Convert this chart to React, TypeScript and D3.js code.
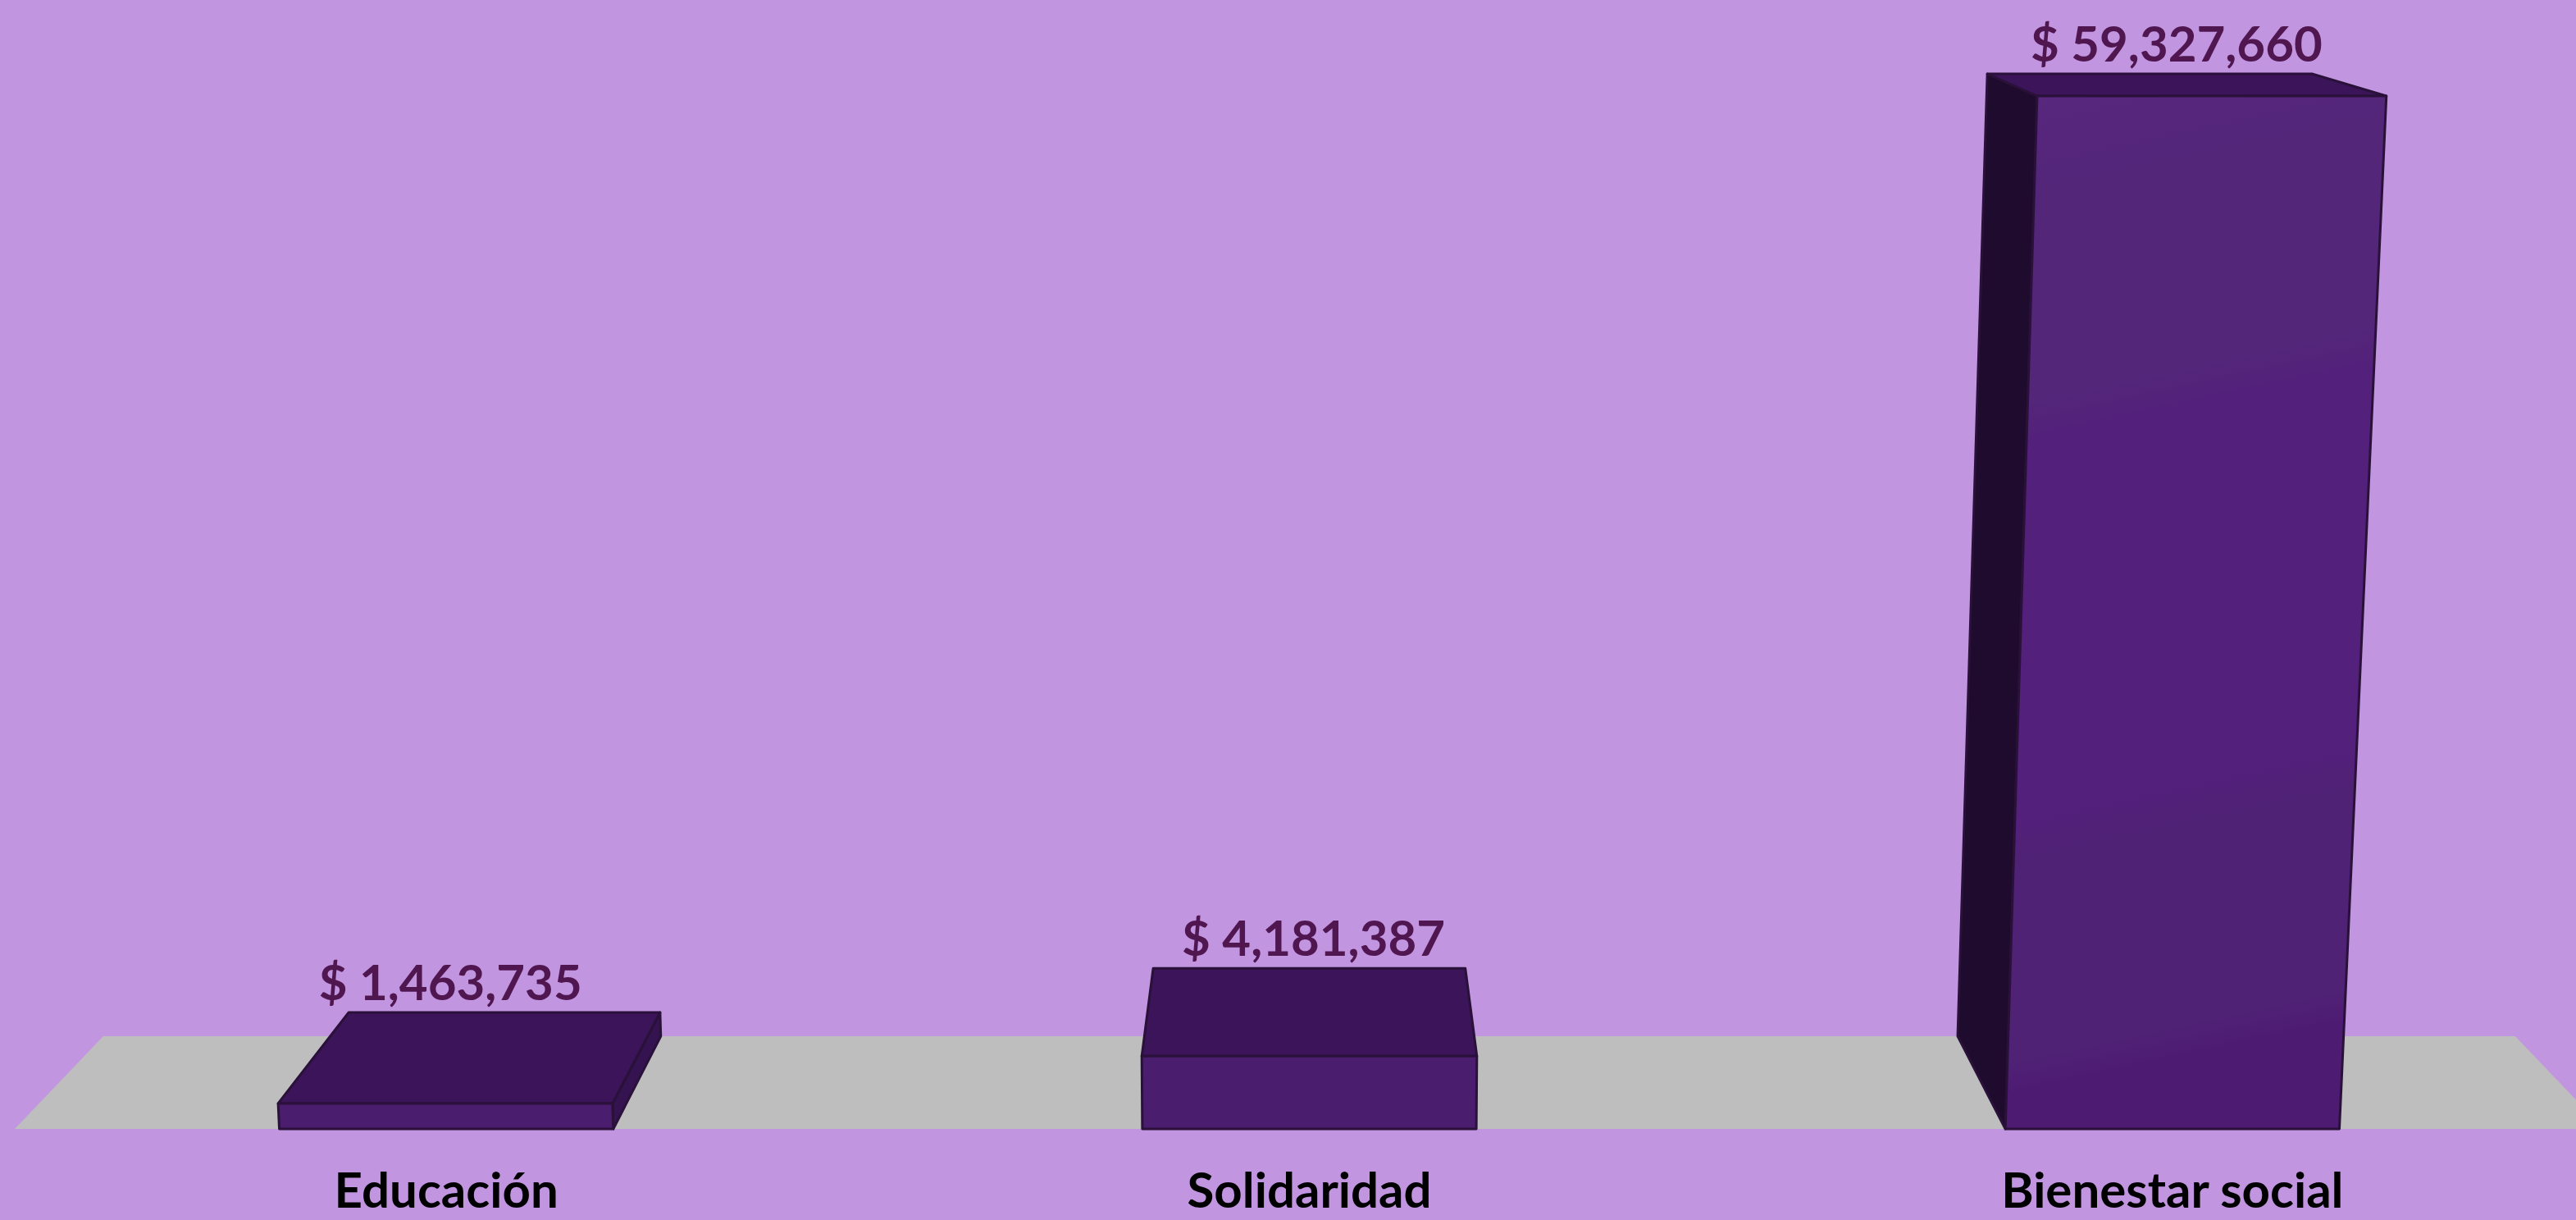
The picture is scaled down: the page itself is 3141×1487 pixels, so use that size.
import React from "react";
import * as d3 from "d3";

const categories = ["Educación", "Solidaridad", "Bienestar social"];
const values = [1463735, 4181387, 59327660];
const valuePrefix = "$ ";

const W = 3141;
const H = 1487;
const floorY = 1376;
const floorX0 = 18;
const floorX1 = 3175;
const topY = 117;
const VP = { x: 1595, y: -276 };
const depthK = 0.0684;
const keyVy = 29000;

const BG = "#C195E0";
const FLOOR = "#BEBEBE";
const TOP = "#3B1459";
const SIDE_DARK = "#1E0B2D";
const SIDE_LIGHT = "#351351";
const STROKE = "#2A1139";
const LABEL = "#4F1650";

function project(x: number, y: number, d: number): [number, number] {
  const s = (keyVy - y) / (keyVy - floorY);
  const x1 = VP.x + (x - VP.x) * s;
  if (!d) return [x1, y];
  return [VP.x + (x1 - VP.x) * (1 - depthK), VP.y + (y - VP.y) * (1 - depthK)];
}

const poly = (pts: [number, number][]) => pts.map((p) => p.join(",")).join(" ");

export default function App() {
  const x = d3
    .scaleBand<string>()
    .domain(categories)
    .range([floorX0, floorX1])
    .paddingInner(0.613)
    .paddingOuter(0.3065);
  const y = d3.scaleLinear().domain([0, d3.max(values) as number]).range([floorY, topY]);
  const fmt = d3.format(",");

  const floorPts: [number, number][] = [
    project(floorX0, floorY, 0),
    project(floorX1, floorY, 0),
    project(floorX1, floorY, 1),
    project(floorX0, floorY, 1),
  ];

  return (
    <svg
      width={W}
      height={H}
      style={{ position: "absolute", left: 0, top: 0, display: "block" }}
      xmlns="http://www.w3.org/2000/svg"
    >
      <defs>
        <linearGradient id="frontGrad" x1="0" y1="0" x2="0.08" y2="1">
          <stop offset="0" stopColor="#58277F" />
          <stop offset="0.1" stopColor="#53267A" />
          <stop offset="0.3" stopColor="#53267A" />
          <stop offset="0.34" stopColor="#53207B" />
          <stop offset="0.7" stopColor="#53207B" />
          <stop offset="0.74" stopColor="#4F2275" />
          <stop offset="0.93" stopColor="#4F2275" />
          <stop offset="0.96" stopColor="#4E1B73" />
          <stop offset="1" stopColor="#4E1B73" />
        </linearGradient>
      </defs>
      <rect x={0} y={0} width={W} height={H} fill={BG} />
      <polygon points={poly(floorPts)} fill={FLOOR} />
      {categories.map((c, i) => {
        const x0 = x(c) as number;
        const x1 = x0 + x.bandwidth();
        const yt = y(values[i]);
        const fl = project(x0, floorY, 0);
        const fr = project(x1, floorY, 0);
        const tl = project(x0, yt, 0);
        const tr = project(x1, yt, 0);
        const bfl = project(x0, floorY, 1);
        const bfr = project(x1, floorY, 1);
        const btl = project(x0, yt, 1);
        const btr = project(x1, yt, 1);
        const cx = (x0 + x1) / 2;
        const labelY = btl[1] - 15;
        return (
          <g key={c}>
            {x0 > VP.x && (
              <polygon
                points={poly([fl, tl, btl, bfl])}
                fill={SIDE_DARK}
                stroke={STROKE}
                strokeWidth={3}
                strokeLinejoin="round"
              />
            )}
            {x1 < VP.x && (
              <polygon
                points={poly([fr, tr, btr, bfr])}
                fill={SIDE_LIGHT}
                stroke={STROKE}
                strokeWidth={3}
                strokeLinejoin="round"
              />
            )}
            <polygon
              points={poly([tl, tr, btr, btl])}
              fill={TOP}
              stroke={STROKE}
              strokeWidth={3}
              strokeLinejoin="round"
            />
            <polygon
              points={poly([fl, fr, tr, tl])}
              fill={i === 2 ? "url(#frontGrad)" : "#4A1D6E"}
              stroke={STROKE}
              strokeWidth={3}
              strokeLinejoin="round"
            />
            <text
              x={cx + 5}
              y={labelY}
              textAnchor="middle"
              fontFamily="Lato, 'Open Sans', sans-serif"
              fontWeight={700}
              fontSize={60}
              fill={LABEL}
            >
              {valuePrefix + fmt(values[i])}
            </text>
            <text
              x={cx}
              y={1472}
              textAnchor="middle"
              fontFamily="Lato, 'Open Sans', sans-serif"
              fontWeight={700}
              fontSize={60}
              fill="#000"
            >
              {c}
            </text>
          </g>
        );
      })}
    </svg>
  );
}
